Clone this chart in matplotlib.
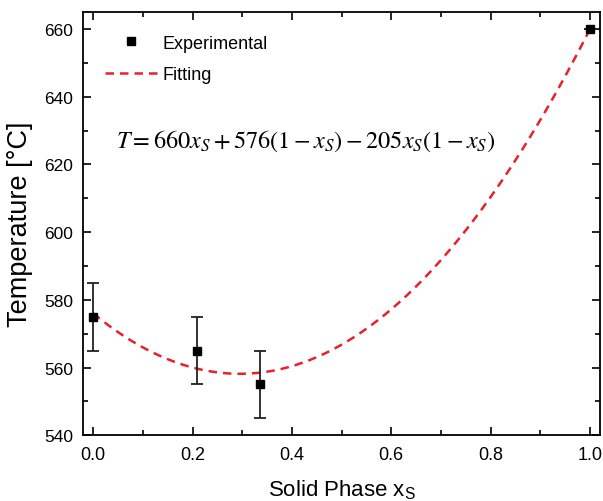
import numpy as np
import matplotlib
matplotlib.use("Agg")
import matplotlib.pyplot as plt
from matplotlib.ticker import MultipleLocator

plt.rcParams["font.family"] = ["Liberation Sans", "DejaVu Sans"]
plt.rcParams["mathtext.fontset"] = "stix"

# experimental data
x_exp = [0.0, 0.21, 0.335, 1.0]
t_exp = [575, 565, 555, 660]
t_err = [10, 10, 10, 0]

# fit coefficients: T = a*x + b*(1-x) - c*x*(1-x)
a_fit, b_fit, c_fit = 660, 576, 205

x_fit = np.linspace(0, 1, 200)
t_fit = a_fit * x_fit + b_fit * (1 - x_fit) - c_fit * x_fit * (1 - x_fit)

fig = plt.figure(figsize=(6.03, 5.02), dpi=100)
ax = fig.add_axes([0.138, 0.131, 0.857, 0.843])

ax.plot(x_fit, t_fit, "--", color="#e8202a", linewidth=1.8, dashes=(3.4, 2.4),
        label="Fitting", zorder=2)
ax.errorbar(x_exp, t_exp, yerr=t_err, fmt="none", ecolor="#222222",
            elinewidth=1.3, capsize=4, capthick=1.3, zorder=3)
ax.plot(x_exp, t_exp, "s", color="black", markersize=6, linestyle="none",
        label="Experimental", zorder=4)

ax.set_xlim(-0.02, 1.02)
ax.set_ylim(540, 665)
ax.xaxis.set_major_locator(MultipleLocator(0.2))
ax.xaxis.set_minor_locator(MultipleLocator(0.1))
ax.yaxis.set_major_locator(MultipleLocator(20))
ax.yaxis.set_minor_locator(MultipleLocator(10))
ax.tick_params(which="both", direction="in", top=True, right=True, width=1.2)
ax.tick_params(axis="x", labelsize=13, pad=8)
ax.tick_params(axis="y", labelsize=12.5, pad=7)
ax.tick_params(which="major", length=6)
ax.tick_params(which="minor", length=3.5)
for s in ax.spines.values():
    s.set_linewidth(1.3)

ax.set_xlabel(r"Solid Phase x$_\mathregular{S}$", fontsize=16, labelpad=10)
ax.set_ylabel("Temperature [°C]", fontsize=19.5, labelpad=8)

ax.text(0.045, 627, r"$T = 660x_S + 576(1 - x_S) - 205x_S(1 - x_S)$",
        fontsize=17.5, va="center", ha="left")

h, l = ax.get_legend_handles_labels()
ax.legend(h[::-1], l[::-1], loc="upper left", frameon=False, fontsize=13,
          handlelength=2.9, handletextpad=0.3, labelspacing=0.8,
          bbox_to_anchor=(0.01, 0.985))

fig.savefig("out.png", dpi=100)
